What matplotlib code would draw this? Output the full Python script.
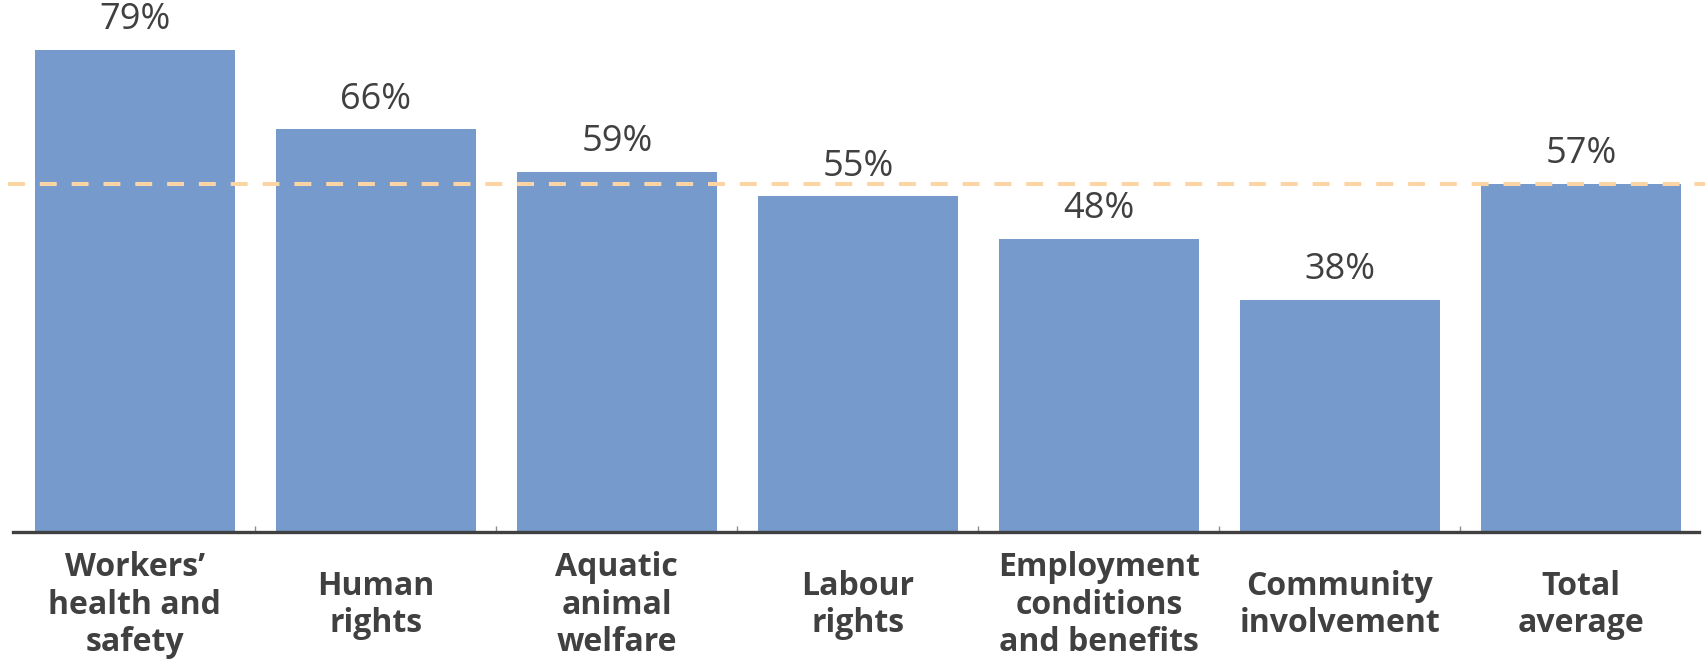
import matplotlib.pyplot as plt
import matplotlib.transforms as mtransforms

# data
categories = ["Workers’\nhealth and\nsafety", "Human\nrights", "Aquatic\nanimal\nwelfare",
              "Labour\nrights", "Employment\nconditions\nand benefits", "Community\ninvolvement",
              "Total\naverage"]
shares = [0.79, 0.66, 0.59, 0.55, 0.48, 0.38, 0.57]
average = 0.57

bar_color = "#779acd"
line_color = "#fdd5a5"
text_color = "#404040"

plt.rcParams['font.family'] = ['Open Sans', 'DejaVu Sans']

fig = plt.figure(figsize=(17.06, 6.59), dpi=100)
ax = fig.add_axes([13 / 1706, 1 - 532 / 659, (1699 - 13) / 1706, 532 / 659])

x = list(range(len(shares)))
ax.bar(x, shares, width=0.83, color=bar_color, zorder=2)

# percentage labels above bars
for i, v in enumerate(shares):
    ax.annotate(f"{v * 100:.0f}%", (i, v), xytext=(0, 15), textcoords="offset points",
                ha="center", va="baseline", fontsize=26, color=text_color)

# average reference line
ax.axhline(average, xmin=-0.003, xmax=1.01, color=line_color, lw=2.9,
           dashes=(4.2, 3.7), zorder=3, clip_on=False)

ax.set_xlim(-0.505, 6.49)
ax.set_ylim(0, 0.872)

# category labels under the axis, centred vertically
trans = mtransforms.blended_transform_factory(ax.transData, ax.transAxes)
for i, lab in enumerate(categories):
    ax.text(i, -0.1375, lab, transform=trans, ha="center", va="center",
            fontsize=23, fontweight="bold", color=text_color, linespacing=1.17)

for s in ["top", "left", "right"]:
    ax.spines[s].set_visible(False)
ax.spines["bottom"].set_color(text_color)
ax.spines["bottom"].set_linewidth(2.4)
ax.spines["bottom"].set_zorder(4)

ax.set_yticks([])
ax.set_xticks([])
ax.set_xticks([i + 0.5 for i in range(len(shares) - 1)], minor=True)
ax.tick_params(axis="x", which="minor", direction="in", length=4, width=1, color="#8c8c8c")

fig.savefig("out.png", dpi=100)
